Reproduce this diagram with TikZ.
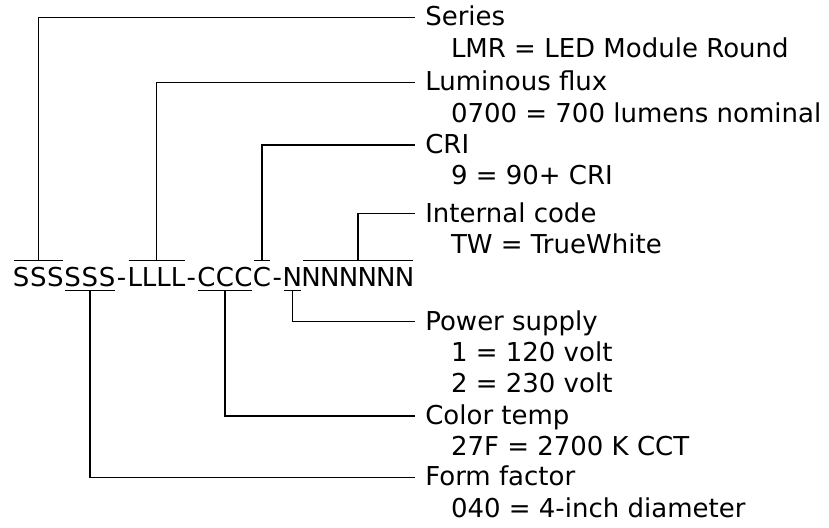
\documentclass[tikz,border=0pt]{standalone}
\usepackage{fontspec}
\setmainfont{DejaVu Sans}
\newcommand\kS{\makebox[17.2pt]{S}}
\newcommand\kL{\makebox[14.5pt]{L}}
\newcommand\kC{\makebox[18.5pt]{C}}
\newcommand\kN{\makebox[18.7pt]{N}}
\newcommand\kH{\makebox[11.8pt]{-}}
\tikzset{
  seg/.style={inner sep=0pt, outer sep=0pt, anchor=base west, text height=18.3pt, text depth=0pt, font=\fontsize{26}{30}\selectfont},
  ttl/.style={inner sep=0pt, outer sep=0pt, anchor=west, text height=17pt, text depth=0pt, font=\fontsize{26}{31}\selectfont},
  desc/.style={inner sep=0pt, outer sep=0pt, anchor=base west, font=\fontsize{26}{31}\selectfont},
  bar/.style={line width=1.4pt},
  conn/.style={line width=1.4pt, shorten >=10pt}
}
\begin{document}
\begin{tikzpicture}[x=1pt,y=-1pt]
\useasboundingbox (0,0) rectangle (829,527);
% code string
\node[seg] (s1) at (12.5,286.7) {\kS\kS\kS};
\node[seg] (s2) at (s1.base east) {\kS\kS\kS};
\node[seg] (h1) at (s2.base east) {\kH};
\node[seg] (l1) at (h1.base east) {\kL\kL\kL\kL};
\node[seg] (h2) at (l1.base east) {\kH};
\node[seg] (c1) at (h2.base east) {\kC\kC\kC};
\node[seg] (c2) at (c1.base east) {\kC};
\node[seg] (h3) at (c2.base east) {\kH};
\node[seg] (n1) at (h3.base east) {\kN};
\node[seg] (n2) at (n1.base east) {\kN\kN\kN\kN\kN\kN};
% over bars
\foreach \s in {s1,l1,c2,n2}
  \draw[bar] ([shift={(1pt,8pt)}]\s.north west) -- ([shift={(-1pt,8pt)}]\s.north east);
% under bars
\foreach \s in {s2,c1,n1}
  \draw[bar] ([shift={(1pt,-4pt)}]\s.south west) -- ([shift={(-1pt,-4pt)}]\s.south east);
% labels
\node[ttl] (series) at (425.3,17.3) {Series};
\node[desc] (seriesd) at (451,57.1) {LMR = LED Module Round};
\node[ttl] (lum) at (425.3,82.3) {Luminous flux};
\node[desc] (lumd) at (451,122.1) {0700 = 700 lumens nominal};
\node[ttl] (cri) at (425.3,145) {CRI};
\node[desc] (crid) at (451,184.8) {9 = 90+ CRI};
\node[ttl] (intc) at (425.3,213.7) {Internal code};
\node[desc] (intcd) at (451,253.5) {TW = TrueWhite};
\node[ttl] (pow) at (425.3,321.7) {Power supply};
\node[desc] (powd1) at (451,361.5) {1 = 120 volt};
\node[desc] (powd2) at (451,392.8) {2 = 230 volt};
\node[ttl] (col) at (425.3,416) {Color temp};
\node[desc] (cold) at (451,455.8) {27F = 2700 K CCT};
\node[ttl] (form) at (425.3,477.3) {Form factor};
\node[desc] (formd) at (451,517.1) {040 = 4-inch diameter};
% connectors
\draw[conn] ([yshift=8pt]s1.north) |- (series.west);
\draw[conn] ([yshift=8pt]l1.north) |- (lum.west);
\draw[conn] ([yshift=8pt]c2.north) |- (cri.west);
\draw[conn] ([yshift=8pt]n2.north) |- (intc.west);
\draw[conn] ([yshift=-4pt]n1.south) |- (pow.west);
\draw[conn] ([yshift=-4pt]c1.south) |- (col.west);
\draw[conn] ([yshift=-4pt]s2.south) |- (form.west);
\end{tikzpicture}
\end{document}
